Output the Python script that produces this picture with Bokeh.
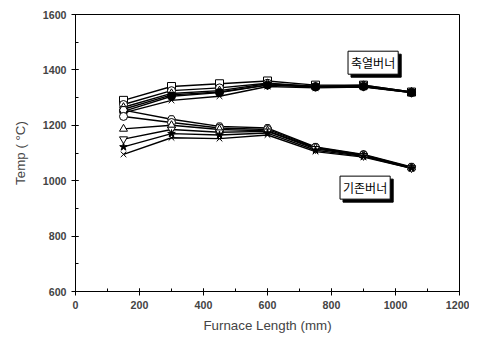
from bokeh.plotting import figure
from bokeh.embed import file_html
from bokeh.resources import INLINE
from bokeh.models import SingleIntervalTicker, Label, Range1d

x = [150, 300, 450, 600, 750, 900, 1050]

# 축열버너 (regenerative burner) series
up_square = [1290, 1340, 1350, 1360, 1345, 1345, 1320]
up_circle = [1275, 1325, 1335, 1352, 1340, 1345, 1320]
up_tri = [1265, 1315, 1325, 1350, 1340, 1342, 1320]
up_itri = [1258, 1310, 1320, 1346, 1340, 1340, 1318]
up_fill = [1250, 1305, 1318, 1345, 1338, 1340, 1318]
up_x = [1245, 1290, 1305, 1340, 1335, 1338, 1318]

# 기존버너 (conventional burner) series
lo_hex = [1255, 1222, 1196, 1190, 1122, 1095, 1050]
lo_circle = [1232, 1210, 1190, 1185, 1120, 1093, 1048]
lo_tri = [1187, 1200, 1185, 1180, 1118, 1092, 1047]
lo_itri = [1150, 1185, 1175, 1178, 1115, 1090, 1046]
lo_fill = [1122, 1170, 1165, 1172, 1110, 1088, 1045]
lo_x = [1095, 1155, 1152, 1165, 1105, 1085, 1045]

p = figure(width=469, height=335, output_backend="svg", toolbar_location=None,
           x_range=Range1d(0, 1200), y_range=Range1d(600, 1600),
           min_border_left=75, min_border_right=10, min_border_top=14, min_border_bottom=39)
p.background_fill_color = "white"
p.border_fill_color = "white"
p.outline_line_color = "black"
p.outline_line_width = 1
p.xgrid.visible = False
p.ygrid.visible = False

series = [
    (up_square, "square", "white"), (up_circle, "circle", "white"), (up_tri, "triangle", "white"),
    (up_itri, "inverted_triangle", "white"), (up_fill, "circle", "black"), (up_x, "x", "white"),
    (lo_hex, "hex", "white"), (lo_circle, "circle", "white"), (lo_tri, "triangle", "white"),
    (lo_itri, "inverted_triangle", "white"), (lo_fill, "star", "black"), (lo_x, "x", "white"),
]
for ys, m, fc in series:
    p.line(x, ys, line_color="black", line_width=1.4)
for ys, m, fc in series:
    p.scatter(x, ys, marker=m, size=8, line_color="black", fill_color=fc, line_width=1)

for ax in (p.xaxis[0], p.yaxis[0]):
    ax.major_tick_in = 3
    ax.major_tick_out = 4
    ax.minor_tick_in = 3
    ax.minor_tick_out = 0
    ax.axis_line_color = "black"
    ax.major_label_text_font = "Liberation Sans"
    ax.major_label_text_font_style = "bold"
    ax.major_label_text_font_size = "8pt"
    ax.axis_label_text_font = "Liberation Sans"
    ax.axis_label_text_font_style = "normal"
    ax.axis_label_text_font_size = "10pt"

p.xaxis[0].ticker = SingleIntervalTicker(interval=200, num_minor_ticks=2)
p.yaxis[0].ticker = SingleIntervalTicker(interval=200, num_minor_ticks=2)
p.xaxis.axis_label = "Furnace Length (mm)"
p.yaxis.axis_label = "Temp ( °C)"
p.xaxis.axis_label_standoff = 6
p.yaxis.axis_label_standoff = 12

def boxed(xv, yv, txt):
    shadow = Label(x=xv, y=yv, text=txt, x_offset=3, y_offset=-3,
                   text_font="Noto Sans CJK KR", text_font_size="9pt", text_color="black",
                   text_align="center", text_baseline="middle",
                   background_fill_color="black", border_line_color="black", padding=3)
    lab = Label(x=xv, y=yv, text=txt,
                text_font="Noto Sans CJK KR", text_font_size="9pt", text_color="black",
                text_align="center", text_baseline="middle",
                background_fill_color="white", border_line_color="black", padding=3)
    p.add_layout(shadow)
    p.add_layout(lab)

boxed(930, 1426, "축열버너")
boxed(905, 975, "기존버너")

open("out.html", "w").write(file_html(p, INLINE))
